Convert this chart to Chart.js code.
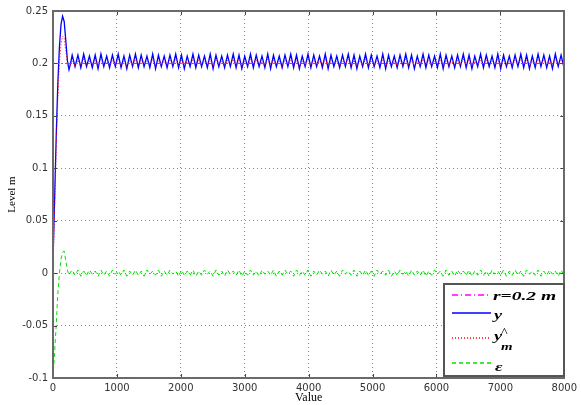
<!DOCTYPE html>
<html lang="en">
<head>
<meta charset="UTF-8">
<title>Level response</title>
<script src="https://cdn.jsdelivr.net/npm/chart.js"></script>
<style>
  body { margin: 0; background: #fff; }
  #box { width: 581px; height: 405px; }
</style>
</head>
<body>
<div id="box"><canvas id="myChart" width="581" height="405"></canvas></div>
<script>
// reference level
const refLevel = 0.2;

// sample times: transient part listed, steady part every 45 from 345 to 7995
const tTransient = [0, 25, 50, 75, 100, 125, 150, 175, 200, 225, 250, 275, 300];
const tSteadyStart = 345, tSteadyEnd = 8000, tSteadyStep = 45;

// y (blue)
const yTransient = [0.012, 0.07, 0.13, 0.18, 0.215, 0.237, 0.245, 0.240, 0.222, 0.203, 0.194, 0.200, 0.208];
const ySteady = [
  0.197,0.208,0.196,0.209,0.197,0.207,0.196,0.208,0.195,0.209,
  0.197,0.207,0.196,0.208,0.197,0.209,0.196,0.207,0.195,0.208,
  0.197,0.209,0.196,0.208,0.197,0.207,0.196,0.209,0.195,0.208,
  0.197,0.207,0.196,0.208,0.197,0.209,0.196,0.208,0.195,0.207,
  0.197,0.209,0.196,0.208,0.197,0.207,0.196,0.209,0.195,0.208,
  0.197,0.207,0.196,0.208,0.197,0.209,0.196,0.208,0.195,0.207,
  0.197,0.209,0.196,0.208,0.197,0.207,0.196,0.209,0.195,0.208,
  0.197,0.207,0.196,0.208,0.197,0.209,0.196,0.208,0.195,0.207,
  0.197,0.209,0.196,0.208,0.197,0.207,0.196,0.209,0.195,0.208,
  0.197,0.207,0.196,0.208,0.197,0.209,0.196,0.208,0.195,0.207,
  0.197,0.209,0.196,0.208,0.197,0.207,0.196,0.209,0.195,0.208,
  0.197,0.207,0.196,0.208,0.197,0.209,0.196,0.208,0.195,0.207,
  0.197,0.209,0.196,0.208,0.197,0.207,0.196,0.209,0.195,0.208,
  0.197,0.207,0.196,0.208,0.197,0.209,0.196,0.208,0.195,0.207,
  0.197,0.209,0.196,0.208,0.197,0.207,0.196,0.209,0.195,0.208,
  0.197,0.207,0.196,0.208,0.197,0.209,0.196,0.208,0.195,0.207,
  0.196,0.209,0.197,0.208,0.196,0.207,0.195,0.209,0.197,0.208,
  0.196
];

// y_m hat (red dotted)
const ymTransient = [0.0, 0.06, 0.12, 0.165, 0.2, 0.218, 0.226, 0.224, 0.212, 0.2, 0.196, 0.199, 0.203];
const ymSteady = [
  0.198,0.203,0.199,0.204,0.198,0.202,0.199,0.203,0.197,0.204,
  0.199,0.202,0.198,0.203,0.199,0.204,0.198,0.202,0.197,0.203,
  0.198,0.204,0.199,0.203,0.198,0.202,0.199,0.204,0.197,0.203,
  0.199,0.202,0.198,0.203,0.199,0.204,0.198,0.203,0.197,0.202,
  0.198,0.204,0.199,0.203,0.198,0.202,0.199,0.204,0.197,0.203,
  0.199,0.202,0.198,0.203,0.199,0.204,0.198,0.203,0.197,0.202,
  0.198,0.204,0.199,0.203,0.198,0.202,0.199,0.204,0.197,0.203,
  0.199,0.202,0.198,0.203,0.199,0.204,0.198,0.203,0.197,0.202,
  0.198,0.204,0.199,0.203,0.198,0.202,0.199,0.204,0.197,0.203,
  0.199,0.202,0.198,0.203,0.199,0.204,0.198,0.203,0.197,0.202,
  0.198,0.204,0.199,0.203,0.198,0.202,0.199,0.204,0.197,0.203,
  0.199,0.202,0.198,0.203,0.199,0.204,0.198,0.203,0.197,0.202,
  0.198,0.204,0.199,0.203,0.198,0.202,0.199,0.204,0.197,0.203,
  0.199,0.202,0.198,0.203,0.199,0.204,0.198,0.203,0.197,0.202,
  0.198,0.204,0.199,0.203,0.198,0.202,0.199,0.204,0.197,0.203,
  0.199,0.202,0.198,0.203,0.198,0.204,0.199,0.203,0.197,0.202,
  0.198,0.204,0.199,0.203,0.198,0.202,0.197,0.204,0.199,0.203,
  0.198
];

// epsilon (green dashed)
const epsTransient = [-0.1, -0.075, -0.05, -0.02, 0.0, 0.013, 0.02, 0.021, 0.012, 0.003, -0.002, 0.001, 0.003];
const epsSteady = [
  -0.002,0.003,-0.003,0.002,-0.002,0.003,-0.001,0.002,-0.003,0.003,
  -0.002,0.002,-0.003,0.003,-0.001,0.002,-0.002,0.003,-0.003,0.002,
  -0.002,0.003,-0.002,0.002,-0.003,0.003,-0.001,0.002,-0.002,0.003,
  -0.003,0.002,-0.002,0.003,-0.001,0.002,-0.003,0.003,-0.002,0.002,
  -0.002,0.003,-0.003,0.002,-0.002,0.003,-0.001,0.002,-0.003,0.003,
  -0.002,0.002,-0.003,0.003,-0.001,0.002,-0.002,0.003,-0.003,0.002,
  -0.002,0.003,-0.002,0.002,-0.003,0.003,-0.001,0.002,-0.002,0.003,
  -0.003,0.002,-0.002,0.003,-0.001,0.002,-0.003,0.003,-0.002,0.002,
  -0.002,0.003,-0.003,0.002,-0.002,0.003,-0.001,0.002,-0.003,0.003,
  -0.002,0.002,-0.003,0.003,-0.001,0.002,-0.002,0.003,-0.003,0.002,
  -0.002,0.003,-0.002,0.002,-0.003,0.003,-0.001,0.002,-0.002,0.003,
  -0.003,0.002,-0.002,0.003,-0.001,0.002,-0.003,0.003,-0.002,0.002,
  -0.002,0.003,-0.003,0.002,-0.002,0.003,-0.001,0.002,-0.003,0.003,
  -0.002,0.002,-0.003,0.003,-0.001,0.002,-0.002,0.003,-0.003,0.002,
  -0.002,0.003,-0.002,0.002,-0.003,0.003,-0.001,0.002,-0.002,0.003,
  -0.003,0.002,-0.002,0.003,-0.002,0.002,-0.003,0.003,-0.001,0.002,
  -0.002,0.003,-0.003,0.002,-0.002,0.003,-0.001,0.002,-0.003,0.003,
  -0.002
];

// axis ranges
const xMin = 0, xMax = 8000, xStep = 1000;
const yMin = -0.1, yMax = 0.25, yStep = 0.05;

// line styles, shared by datasets and legend (order: lower is drawn on top)
const styles = [
  { color: '#ff00ff', dash: [6, 3, 1, 3], width: 1, order: 2 },
  { color: '#0000ff', dash: [], width: 1.3, order: 3 },
  { color: '#ff0000', dash: [1, 2], width: 1, order: 1 },
  { color: '#00e000', dash: [4, 3], width: 1, order: 0 }
];

const times = tTransient.slice();
for (let t = tSteadyStart; t <= tSteadyEnd; t += tSteadyStep) times.push(t);

const toPoints = (vals) => vals.map((v, i) => ({ x: times[i], y: v }));

const yPts = toPoints(yTransient.concat(ySteady));
const ymPts = toPoints(ymTransient.concat(ymSteady));
const epsPts = toPoints(epsTransient.concat(epsSteady));
const refPts = [{ x: xMin, y: refLevel }, { x: xMax, y: refLevel }];

const serif = '"Liberation Serif", "Times New Roman", serif';
const sans = '"DejaVu Sans", Arial, sans-serif';

// stretched text helper (the legend lettering is wide)
function wideText(ctx, s, x, y, font, sx) {
  ctx.save();
  ctx.translate(x, y);
  ctx.scale(sx, 1);
  ctx.font = font;
  ctx.fillText(s, 0, 0);
  ctx.restore();
}

// box, inward ticks on all sides, and the legend
const frameAndLegend = {
  id: 'frameAndLegend',
  afterDraw(chart) {
    const { ctx, chartArea: a, scales } = chart;
    ctx.save();
    ctx.setLineDash([]);

    ctx.strokeStyle = '#444';
    ctx.lineWidth = 1;
    const tl = 4;
    ctx.beginPath();
    for (let v = xMin; v <= xMax; v += xStep) {
      const px = Math.round(scales.x.getPixelForValue(v)) + 0.5;
      ctx.moveTo(px, a.bottom); ctx.lineTo(px, a.bottom - tl);
      ctx.moveTo(px, a.top); ctx.lineTo(px, a.top + tl);
    }
    for (let i = 0; i <= Math.round((yMax - yMin) / yStep); i++) {
      const py = Math.round(scales.y.getPixelForValue(yMin + i * yStep)) + 0.5;
      ctx.moveTo(a.left, py); ctx.lineTo(a.left + tl, py);
      ctx.moveTo(a.right, py); ctx.lineTo(a.right - tl, py);
    }
    ctx.stroke();

    ctx.strokeStyle = '#6a6a6a';
    ctx.lineWidth = 2;
    ctx.strokeRect(Math.round(a.left), Math.round(a.top), Math.round(a.right - a.left), Math.round(a.bottom - a.top));

    // legend box
    const lx = 444, ly = 284, lw = 120, lh = 92;
    ctx.fillStyle = '#fff';
    ctx.fillRect(lx, ly, lw, lh);
    ctx.strokeStyle = '#555';
    ctx.lineWidth = 2;
    ctx.strokeRect(lx, ly, lw, lh);

    const rowY = [295, 313, 338, 363];
    rowY.forEach((ry, i) => {
      const st = styles[i];
      ctx.save();
      ctx.strokeStyle = st.color;
      ctx.lineWidth = 1.4;
      ctx.setLineDash(st.dash);
      ctx.beginPath();
      ctx.moveTo(452, ry);
      ctx.lineTo(491, ry);
      ctx.stroke();
      ctx.restore();
    });
    ctx.setLineDash([]);

    ctx.fillStyle = '#000';
    ctx.textBaseline = 'alphabetic';
    ctx.textAlign = 'left';
    const bi = 'italic bold 13px ' + serif;
    wideText(ctx, 'r=0.2 m', 493, 300, bi, 1.5);
    wideText(ctx, 'y', 494, 319, bi, 1.4);
    wideText(ctx, 'y', 494, 340, bi, 1.4);
    wideText(ctx, '^', 501, 336, '12px ' + serif, 1.2);
    wideText(ctx, 'm', 501, 350, 'italic bold 11px ' + serif, 1.35);
    wideText(ctx, '\u03B5', 495, 371, bi, 1.4);
    ctx.restore();
  }
};

const chart = new Chart(document.getElementById('myChart'), {
  type: 'line',
  data: {
    datasets: [
      { label: 'r=0.2 m', data: refPts },
      { label: 'y', data: yPts },
      { label: 'ym', data: ymPts },
      { label: 'eps', data: epsPts }
    ].map((d, i) => Object.assign(d, {
      borderColor: styles[i].color,
      borderDash: styles[i].dash,
      borderWidth: styles[i].width,
      order: styles[i].order
    }))
  },
  options: {
    responsive: false,
    animation: false,
    events: [],
    elements: { point: { radius: 0 }, line: { tension: 0 } },
    layout: { padding: { top: 10, right: 15, left: 0, bottom: 0 } },
    plugins: { legend: { display: false }, tooltip: { enabled: false } },
    scales: {
      x: {
        type: 'linear',
        min: xMin, max: xMax,
        afterFit: s => { s.height = 27; },
        ticks: {
          stepSize: xStep, padding: 4, color: '#333', font: { family: sans, size: 10 }, maxRotation: 0,
          callback: v => String(v)
        },
        grid: { color: '#888', drawTicks: false },
        border: { display: false, dash: [1, 3] },
        title: { display: true, text: 'Value', color: '#000', font: { family: serif, size: 12 }, padding: 0 }
      },
      y: {
        min: yMin, max: yMax,
        afterFit: s => { s.width = 53; },
        ticks: {
          stepSize: yStep, padding: 5, color: '#333', font: { family: sans, size: 10 },
          callback: v => String(+v.toFixed(2))
        },
        grid: { color: '#888', drawTicks: false },
        border: { display: false, dash: [1, 3] },
        title: { display: true, text: 'Level m', color: '#000', font: { family: serif, size: 11 }, padding: { top: 6, bottom: 0 } }
      }
    }
  },
  plugins: [frameAndLegend]
});
</script>
</body>
</html>
